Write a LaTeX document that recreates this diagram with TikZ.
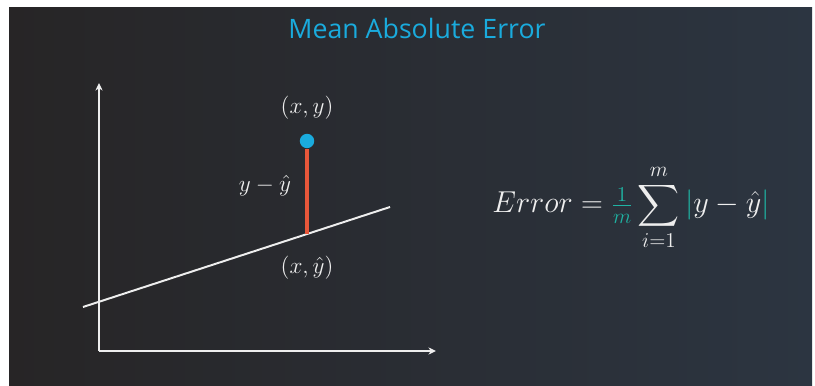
\documentclass[tikz,border=0pt]{standalone}
\usepackage{fix-cm}
\usepackage{fontspec}
\usepackage{amsmath}
\newfontfamily\titlefont{Open Sans}
\usetikzlibrary{arrows.meta}
\definecolor{cbgleft}{HTML}{272526}
\definecolor{cbgright}{HTML}{2C3541}
\definecolor{ccyan}{HTML}{1AABDD}
\definecolor{cteal}{HTML}{1FB3A3}
\definecolor{cred}{HTML}{E8573A}
\definecolor{cline}{HTML}{EEEEEE}
\tikzset{
  every picture/.style={line width=1.4pt},
  axis/.style={-{Stealth[length=1.9mm, width=1.8mm]}, draw=cline},
  fitline/.style={draw=cline},
  resid/.style={draw=cred, line width=2.2pt},
  dot/.style={circle, fill=ccyan, inner sep=0pt, minimum size=0.36cm},
  lbl/.style={text=cline, font=\fontsize{16.5}{19}\selectfont, inner sep=1pt},
  title/.style={text=ccyan, font=\titlefont\fontsize{19}{22}\selectfont},
}

\begin{document}
\begin{tikzpicture}[x=0.025cm, y=-0.025cm]
  \useasboundingbox (0,0) rectangle (815,386);
  \fill[white] (0,0) rectangle (815,386);
  \shade[left color=cbgleft, right color=cbgright] (9,8) rectangle (812,386);
  \node[title] (ttl) at (417,28) {Mean Absolute Error};
  % axes
  \coordinate (origin) at (99,351);
  \coordinate (ytip) at (99,83);
  \coordinate (xtip) at (436,351);
  \draw[axis] (origin) -- (ytip);
  \draw[axis] (origin) -- (xtip);
  % fitted line and one point
  \coordinate (lstart) at (83,307);
  \coordinate (lend) at (390,207);
  \draw[fitline] (lstart) -- (lend);
  \coordinate (foot) at (307,234);
  \node[dot] (pt) at (307,141) {};
  \draw[resid] (foot) -- (pt.south);
  \node[lbl] (ptlbl) at (307,108) {$(x,y)$};
  \node[lbl] (difflbl) at (265,186) {$y-\hat{y}$};
  \node[lbl] (footlbl) at (307,268) {$(x,\hat{y})$};
  % the formula
  \node[lbl, font=\fontsize{21.5}{25}\selectfont, anchor=base west] (mae) at (490,213)
    {$\displaystyle Error = {\color{cteal}\tfrac{1}{m}}\sum_{i=1}^{m}{\color{cteal}|}y-\hat{y}{\color{cteal}|}$};
\end{tikzpicture}
\end{document}
